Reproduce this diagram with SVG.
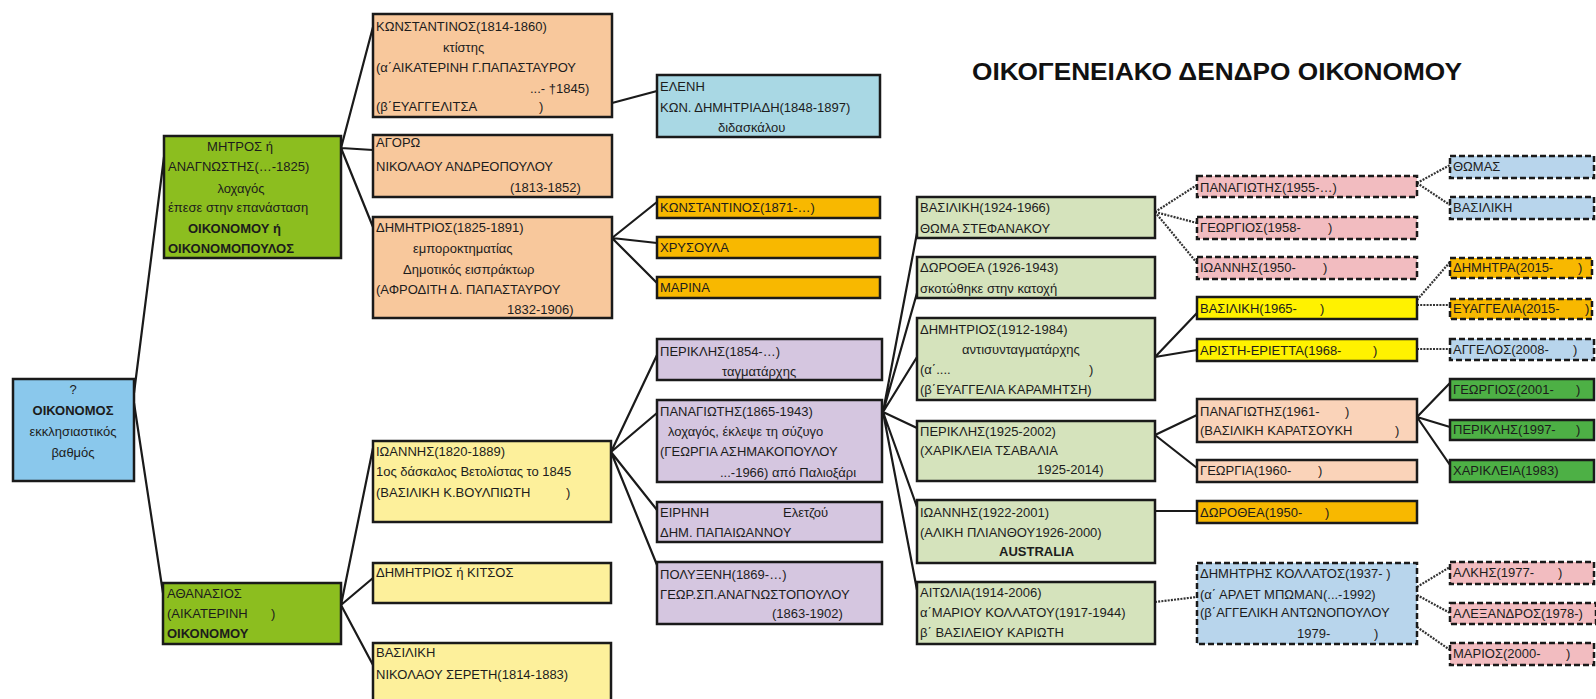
<svg xmlns="http://www.w3.org/2000/svg" width="1596" height="699" viewBox="0 0 1596 699">
<style>
text{font-family:"Liberation Sans",Arial,sans-serif;font-size:13px;fill:#1c1c1c}
.b{font-weight:bold}
.t{font-size:24px;font-weight:bold;fill:#111}
rect{stroke:#1a1a1a;stroke-width:2.5}
rect.bg{stroke:none;fill:#ffffff}
.d{stroke-dasharray:6 3}
.ln{fill:none;stroke:#1a1a1a;stroke-width:2.2}
.dt{fill:none;stroke:#333;stroke-width:2.2;stroke-dasharray:2 1.2}
.c-root{fill:#8AC8EC}.c-olive{fill:#8CBE1F}.c-peach{fill:#F8C89C}.c-lblue{fill:#A9D8E4}
.c-orange{fill:#F8B800}.c-lyel{fill:#FDF09B}.c-purp{fill:#D5C6E0}.c-lgreen{fill:#D5E3BC}
.c-pink{fill:#F2BCC0}.c-yel{fill:#FFF200}.c-lpeach{fill:#FAD3B9}.c-sblue{fill:#B8D5EC}.c-green{fill:#4DB045}
</style>
<rect class="bg" x="0" y="0" width="1596" height="699"/>
<text class="t" x="972" y="80" textLength="490" lengthAdjust="spacingAndGlyphs">ΟΙΚΟΓΕΝΕΙΑΚΟ ΔΕΝΔΡΟ ΟΙΚΟΝΟΜΟΥ</text>
<g id="connectors">
<path class="ln" d="M134,393 L164,157 M134,403 L163,593"/>
<path class="ln" d="M341,148 L373,27 M341,148 L373,150 M341,148 L373,227"/>
<path class="ln" d="M612,103 L657,91"/>
<path class="ln" d="M612,238 L657,202 M612,238 L657,243 M612,238 L657,283"/>
<path class="ln" d="M341,605 L373,448 M341,605 L373,578 M341,605 L373,665"/>
<path class="ln" d="M611,452 L657,355 M611,452 L657,413 M611,452 L657,510 M611,452 L657,565"/>
<path class="ln" d="M883,412 L917,233 M883,412 L917,293 M883,412 L917,357 M883,412 L917,428 M883,412 L917,507 M883,412 L917,590"/>
<path class="ln" d="M1155,357 L1197,313 M1155,357 L1197,350"/>
<path class="ln" d="M1155,435 L1197,415 M1155,435 L1197,468"/>
<path class="ln" d="M1155,511 L1197,511"/>
<path class="ln" d="M1417,417 L1450,383 M1417,417 L1450,427 M1417,417 L1450,465"/>
<path class="dt" d="M1155,212 L1197,185 M1155,212 L1197,223 M1155,212 L1197,263"/>
<path class="dt" d="M1155,602 L1197,597"/>
<path class="dt" d="M1417,183 L1450,165 M1417,183 L1450,205"/>
<path class="dt" d="M1417,300 L1450,262 M1417,305 L1450,305 M1417,349 L1450,349"/>
<path class="dt" d="M1417,587 L1450,567 M1417,595 L1450,613 M1417,627 L1450,650"/>
</g>
<g id="n-root"><rect class="c-root" x="13" y="379" width="121" height="102"/>
<text x="73" y="394" text-anchor="middle">?</text>
<text class="b" x="73" y="415" text-anchor="middle">ΟΙΚΟΝΟΜΟΣ</text>
<text x="73" y="436" text-anchor="middle">εκκλησιαστικός</text>
<text x="73" y="457" text-anchor="middle">βαθμός</text></g>
<g id="n-mitros"><rect class="c-olive" x="164" y="136" width="177" height="122"/>
<text x="240" y="151" text-anchor="middle">ΜΗΤΡΟΣ ή</text>
<text x="168" y="171">ΑΝΑΓΝΩΣΤΗΣ(…-1825)</text>
<text x="241" y="193" text-anchor="middle">λοχαγός</text>
<text x="168" y="212">έπεσε στην επανάσταση</text>
<text class="b" x="188" y="233">ΟΙΚΟΝΟΜΟΥ ή</text>
<text class="b" x="168" y="253">ΟΙΚΟΝΟΜΟΠΟΥΛΟΣ</text></g>
<g id="n-athanasios"><rect class="c-olive" x="163" y="583" width="178" height="61"/>
<text x="167" y="598">ΑΘΑΝΑΣΙΟΣ</text>
<text x="167" y="618">(ΑΙΚΑΤΕΡΙΝΗ<tspan x="271">)</tspan></text>
<text class="b" x="167" y="638">ΟΙΚΟΝΟΜΟΥ</text></g>
<g id="n-konst1814"><rect class="c-peach" x="373" y="14" width="239" height="103"/>
<text x="376" y="31">ΚΩΝΣΤΑΝΤΙΝΟΣ(1814-1860)</text>
<text x="443" y="52">κτίστης</text>
<text x="376" y="72">(α΄ΑΙΚΑΤΕΡΙΝΗ Γ.ΠΑΠΑΣΤΑΥΡΟΥ</text>
<text x="530" y="93">...-  †1845)</text>
<text x="376" y="111">(β΄ΕΥΑΓΓΕΛΙΤΣΑ<tspan x="539">)</tspan></text></g>
<g id="n-agoro"><rect class="c-peach" x="373" y="135" width="239" height="62"/>
<text x="376" y="147">ΑΓΟΡΩ</text>
<text x="376" y="171">ΝΙΚΟΛΑΟΥ ΑΝΔΡΕΟΠΟΥΛΟΥ</text>
<text x="510" y="192">(1813-1852)</text></g>
<g id="n-dim1825"><rect class="c-peach" x="373" y="217" width="239" height="101"/>
<text x="376" y="232">ΔΗΜΗΤΡΙΟΣ(1825-1891)</text>
<text x="413" y="253">εμποροκτηματίας</text>
<text x="403" y="274">Δημοτικός εισπράκτωρ</text>
<text x="376" y="294">(ΑΦΡΟΔΙΤΗ Δ. ΠΑΠΑΣΤΑΥΡΟΥ</text>
<text x="507" y="314">1832-1906)</text></g>
<g id="n-ioannis1820"><rect class="c-lyel" x="373" y="441" width="238" height="81"/>
<text x="376" y="456">ΙΩΑΝΝΗΣ(1820-1889)</text>
<text x="376" y="476">1ος δάσκαλος Βετολίστας το 1845</text>
<text x="376" y="497">(ΒΑΣΙΛΙΚΗ Κ.ΒΟΥΛΠΙΩΤΗ<tspan x="566">)</tspan></text></g>
<g id="n-kitsos"><rect class="c-lyel" x="373" y="563" width="238" height="40"/>
<text x="376" y="577">ΔΗΜΗΤΡΙΟΣ ή ΚΙΤΣΟΣ</text></g>
<g id="n-vasiliki1814"><rect class="c-lyel" x="373" y="643" width="238" height="70"/>
<text x="376" y="657">ΒΑΣΙΛΙΚΗ</text>
<text x="376" y="679">ΝΙΚΟΛΑΟΥ ΣΕΡΕΤΗ(1814-1883)</text></g>
<g id="n-eleni"><rect class="c-lblue" x="657" y="75" width="223" height="62"/>
<text x="660" y="91">ΕΛΕΝΗ</text>
<text x="660" y="112">ΚΩΝ. ΔΗΜΗΤΡΙΑΔΗ(1848-1897)</text>
<text x="718" y="132">διδασκάλου</text></g>
<g id="n-konst1871"><rect class="c-orange" x="657" y="197" width="223" height="21"/>
<text x="660" y="212">ΚΩΝΣΤΑΝΤΙΝΟΣ(1871-…)</text></g>
<g id="n-chrysoula"><rect class="c-orange" x="657" y="237" width="223" height="21"/>
<text x="660" y="252">ΧΡΥΣΟΥΛΑ</text></g>
<g id="n-marina"><rect class="c-orange" x="657" y="277" width="223" height="21"/>
<text x="660" y="292">ΜΑΡΙΝΑ</text></g>
<g id="n-perikl1854"><rect class="c-purp" x="657" y="339" width="225" height="41"/>
<text x="660" y="356">ΠΕΡΙΚΛΗΣ(1854-…)</text>
<text x="722" y="376">ταγματάρχης</text></g>
<g id="n-panag1865"><rect class="c-purp" x="657" y="400" width="225" height="82"/>
<text x="660" y="416">ΠΑΝΑΓΙΩΤΗΣ(1865-1943)</text>
<text x="668" y="436">λοχαγός, έκλεψε τη σύζυγο</text>
<text x="660" y="456">(ΓΕΩΡΓΙΑ ΑΣΗΜΑΚΟΠΟΥΛΟΥ</text>
<text x="720" y="477">...-1966) από Παλιοξάρι</text></g>
<g id="n-eirini"><rect class="c-purp" x="657" y="502" width="225" height="40"/>
<text x="660" y="517">ΕΙΡΗΝΗ<tspan x="783">Ελετζού</tspan></text>
<text x="660" y="537">ΔΗΜ. ΠΑΠΑΙΩΑΝΝΟΥ</text></g>
<g id="n-polyxeni"><rect class="c-purp" x="657" y="562" width="225" height="62"/>
<text x="660" y="579">ΠΟΛΥΞΕΝΗ(1869-…)</text>
<text x="660" y="599">ΓΕΩΡ.ΣΠ.ΑΝΑΓΝΩΣΤΟΠΟΥΛΟΥ</text>
<text x="772" y="618">(1863-1902)</text></g>
<g id="n-vas1924"><rect class="c-lgreen" x="917" y="197" width="238" height="41"/>
<text x="920" y="212">ΒΑΣΙΛΙΚΗ(1924-1966)</text>
<text x="920" y="233">ΘΩΜΑ ΣΤΕΦΑΝΑΚΟΥ</text></g>
<g id="n-dor1926"><rect class="c-lgreen" x="917" y="257" width="238" height="41"/>
<text x="920" y="272">ΔΩΡΟΘΕΑ (1926-1943)</text>
<text x="920" y="293">σκοτώθηκε στην κατοχή</text></g>
<g id="n-dim1912"><rect class="c-lgreen" x="917" y="318" width="238" height="82"/>
<text x="920" y="334">ΔΗΜΗΤΡΙΟΣ(1912-1984)</text>
<text x="962" y="354">αντισυνταγματάρχης</text>
<text x="920" y="374">(α΄....<tspan x="1089">)</tspan></text>
<text x="920" y="394">(β΄ΕΥΑΓΓΕΛΙΑ ΚΑΡΑΜΗΤΣΗ)</text></g>
<g id="n-per1925"><rect class="c-lgreen" x="917" y="421" width="238" height="60"/>
<text x="920" y="436">ΠΕΡΙΚΛΗΣ(1925-2002)</text>
<text x="920" y="455">(ΧΑΡΙΚΛΕΙΑ ΤΣΑΒΑΛΙΑ</text>
<text x="1037" y="474">1925-2014)</text></g>
<g id="n-ioan1922"><rect class="c-lgreen" x="917" y="500" width="238" height="63"/>
<text x="920" y="517">ΙΩΑΝΝΗΣ(1922-2001)</text>
<text x="920" y="537">(ΑΛΙΚΗ ΠΛΙΑΝΘΟΥ1926-2000)</text>
<text class="b" x="999" y="556">AUSTRALIA</text></g>
<g id="n-aitolia"><rect class="c-lgreen" x="917" y="582" width="238" height="62"/>
<text x="920" y="597">ΑΙΤΩΛΙΑ(1914-2006)</text>
<text x="920" y="617">α΄ΜΑΡΙΟΥ ΚΟΛΛΑΤΟΥ(1917-1944)</text>
<text x="920" y="637">β΄ ΒΑΣΙΛΕΙΟΥ ΚΑΡΙΩΤΗ</text></g>
<g id="n-pan1955"><rect class="c-pink d" x="1197" y="176" width="220" height="21"/>
<text x="1200" y="192">ΠΑΝΑΓΙΩΤΗΣ(1955-…)</text></g>
<g id="n-geo1958"><rect class="c-pink d" x="1197" y="217" width="220" height="22"/>
<text x="1200" y="232">ΓΕΩΡΓΙΟΣ(1958-<tspan x="1328">)</tspan></text></g>
<g id="n-ioa1950"><rect class="c-pink d" x="1197" y="257" width="220" height="22"/>
<text x="1200" y="272">ΙΩΑΝΝΗΣ(1950-<tspan x="1323">)</tspan></text></g>
<g id="n-vas1965"><rect class="c-yel" x="1197" y="297" width="220" height="22"/>
<text x="1200" y="313">ΒΑΣΙΛΙΚΗ(1965-<tspan x="1320">)</tspan></text></g>
<g id="n-ari1968"><rect class="c-yel" x="1197" y="339" width="220" height="22"/>
<text x="1200" y="355">ΑΡΙΣΤΗ-ΕΡΙΕΤΤΑ(1968-<tspan x="1373">)</tspan></text></g>
<g id="n-pan1961"><rect class="c-lpeach" x="1197" y="399" width="220" height="43"/>
<text x="1200" y="416">ΠΑΝΑΓΙΩΤΗΣ(1961-<tspan x="1345">)</tspan></text>
<text x="1200" y="435">(ΒΑΣΙΛΙΚΗ ΚΑΡΑΤΣΟΥΚΗ<tspan x="1395">)</tspan></text></g>
<g id="n-geo1960"><rect class="c-lpeach" x="1197" y="460" width="220" height="22"/>
<text x="1200" y="475">ΓΕΩΡΓΙΑ(1960-<tspan x="1318">)</tspan></text></g>
<g id="n-dor1950"><rect class="c-orange" x="1197" y="501" width="220" height="22"/>
<text x="1200" y="517">ΔΩΡΟΘΕΑ(1950-<tspan x="1325">)</tspan></text></g>
<g id="n-dim1937"><rect class="c-sblue d" x="1197" y="563" width="220" height="81"/>
<text x="1200" y="578">ΔΗΜΗΤΡΗΣ ΚΟΛΛΑΤΟΣ(1937- )</text>
<text x="1200" y="599">(α΄ ΑΡΛΕΤ ΜΠΩΜΑΝ(...-1992)</text>
<text x="1200" y="617">(β΄ΑΓΓΕΛΙΚΗ ΑΝΤΩΝΟΠΟΥΛΟΥ</text>
<text x="1297" y="638">1979-<tspan x="1374">)</tspan></text></g>
<g id="n-thomas"><rect class="c-sblue d" x="1450" y="156" width="144" height="22"/>
<text x="1453" y="171">ΘΩΜΑΣ</text></g>
<g id="n-vas-b"><rect class="c-sblue d" x="1450" y="197" width="144" height="22"/>
<text x="1453" y="212">ΒΑΣΙΛΙΚΗ</text></g>
<g id="n-dimitra"><rect class="c-orange d" x="1450" y="258" width="142" height="20"/>
<text x="1453" y="272">ΔΗΜΗΤΡΑ(2015-<tspan x="1578">)</tspan></text></g>
<g id="n-evangelia"><rect class="c-orange d" x="1450" y="299" width="142" height="20"/>
<text x="1453" y="313">ΕΥΑΓΓΕΛΙΑ(2015-<tspan x="1585">)</tspan></text></g>
<g id="n-aggelos"><rect class="c-sblue d" x="1450" y="339" width="144" height="21"/>
<text x="1453" y="354">ΑΓΓΕΛΟΣ(2008-<tspan x="1573">)</tspan></text></g>
<g id="n-geo2001"><rect class="c-green" x="1450" y="379" width="144" height="21"/>
<text x="1453" y="394">ΓΕΩΡΓΙΟΣ(2001-<tspan x="1576">)</tspan></text></g>
<g id="n-per1997"><rect class="c-green" x="1450" y="420" width="144" height="20"/>
<text x="1453" y="434">ΠΕΡΙΚΛΗΣ(1997-<tspan x="1576">)</tspan></text></g>
<g id="n-xar1983"><rect class="c-green" x="1450" y="460" width="144" height="22"/>
<text x="1453" y="475">ΧΑΡΙΚΛΕΙΑ(1983)</text></g>
<g id="n-alkis"><rect class="c-pink d" x="1450" y="562" width="144" height="22"/>
<text x="1453" y="577">ΑΛΚΗΣ(1977-<tspan x="1558">)</tspan></text></g>
<g id="n-alex"><rect class="c-pink d" x="1450" y="603" width="146" height="21"/>
<text x="1453" y="618">ΑΛΕΞΑΝΔΡΟΣ(1978-)</text></g>
<g id="n-marios"><rect class="c-pink d" x="1450" y="643" width="144" height="22"/>
<text x="1453" y="658">ΜΑΡΙΟΣ(2000-<tspan x="1566">)</tspan></text></g>
</svg>
